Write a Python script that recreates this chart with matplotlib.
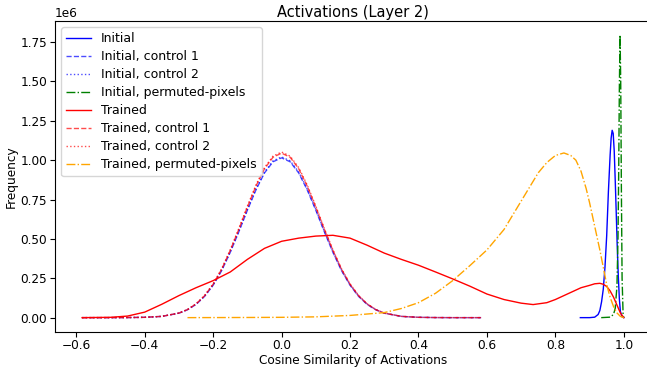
import matplotlib
matplotlib.use("Agg")
import matplotlib.pyplot as plt

# ---- data (values in units of 1e6) ----
ctrl_x = [-0.583, -0.5, -0.45, -0.4, -0.35, -0.3, -0.275, -0.25, -0.225, -0.2, -0.175, -0.15,
          -0.125, -0.1, -0.075, -0.05, -0.025, 0.0, 0.025, 0.05, 0.075, 0.1, 0.125, 0.15,
          0.175, 0.2, 0.225, 0.25, 0.275, 0.3, 0.35, 0.4, 0.45, 0.5, 0.583]
init_ctrl1 = [0.0, 0.0, 0.0005, 0.002, 0.008, 0.028, 0.050, 0.084, 0.135, 0.206, 0.299, 0.415,
              0.545, 0.682, 0.811, 0.919, 0.990, 1.015, 0.990, 0.919, 0.811, 0.682, 0.545, 0.415,
              0.299, 0.206, 0.135, 0.084, 0.050, 0.028, 0.008, 0.002, 0.0005, 0.0, 0.0]
init_ctrl2 = [0.0, 0.0, 0.0005, 0.002, 0.008, 0.029, 0.051, 0.085, 0.137, 0.208, 0.302, 0.418,
              0.549, 0.687, 0.817, 0.925, 0.996, 1.021, 0.996, 0.925, 0.817, 0.687, 0.549, 0.418,
              0.302, 0.208, 0.137, 0.085, 0.051, 0.029, 0.008, 0.002, 0.0005, 0.0, 0.0]
trained_ctrl1 = [0.0, 0.0, 0.0005, 0.002, 0.008, 0.029, 0.051, 0.087, 0.139, 0.212, 0.308, 0.427,
                 0.561, 0.702, 0.835, 0.946, 1.019, 1.045, 1.019, 0.946, 0.835, 0.702, 0.561, 0.427,
                 0.308, 0.212, 0.139, 0.087, 0.051, 0.029, 0.008, 0.002, 0.0005, 0.0, 0.0]
trained_ctrl2 = [0.0, 0.0, 0.0005, 0.002, 0.008, 0.029, 0.052, 0.088, 0.141, 0.215, 0.311, 0.431,
                 0.566, 0.708, 0.842, 0.953, 1.026, 1.052, 1.026, 0.953, 0.842, 0.708, 0.566, 0.431,
                 0.311, 0.215, 0.141, 0.088, 0.052, 0.029, 0.008, 0.002, 0.0005, 0.0, 0.0]

initial_x = [0.873, 0.9, 0.915, 0.925, 0.93, 0.935, 0.94, 0.945, 0.95, 0.955, 0.96, 0.963,
             0.966, 0.969, 0.972, 0.975, 0.978, 0.981, 0.984, 0.987, 0.99, 0.995, 1.0]
initial_y = [0.0, 0.0, 0.003, 0.02, 0.045, 0.1, 0.18, 0.32, 0.52, 0.80, 1.03, 1.14,
             1.19, 1.17, 1.06, 0.87, 0.66, 0.44, 0.26, 0.12, 0.04, 0.005, 0.0]

init_perm_x = [0.934, 0.96, 0.97, 0.975, 0.98, 0.983, 0.985, 0.987, 0.989, 0.991, 0.993,
               0.995, 0.998, 1.0]
init_perm_y = [0.0, 0.003, 0.02, 0.06, 0.2, 0.5, 0.9, 1.45, 1.795, 1.5, 0.8, 0.25, 0.02, 0.0]

trained_x = [-0.583, -0.5, -0.45, -0.4, -0.35, -0.3, -0.25, -0.2, -0.15, -0.1, -0.05, 0.0,
             0.05, 0.1, 0.15, 0.2, 0.25, 0.3, 0.35, 0.4, 0.45, 0.5, 0.55, 0.6, 0.65, 0.7,
             0.735, 0.775, 0.8, 0.825, 0.85, 0.875, 0.9, 0.915, 0.93, 0.94, 0.95, 0.96,
             0.97, 0.98, 0.99, 1.0]
trained_y = [0.0, 0.002, 0.01, 0.035, 0.085, 0.14, 0.19, 0.235, 0.29, 0.37, 0.44, 0.485,
             0.505, 0.518, 0.523, 0.505, 0.46, 0.41, 0.37, 0.333, 0.29, 0.246, 0.2, 0.15,
             0.115, 0.092, 0.083, 0.095, 0.115, 0.14, 0.165, 0.19, 0.205, 0.215, 0.218,
             0.212, 0.198, 0.17, 0.13, 0.08, 0.03, 0.0]

trained_perm_x = [-0.275, -0.1, 0.0, 0.1, 0.2, 0.3, 0.35, 0.4, 0.45, 0.5, 0.55, 0.6, 0.65,
                  0.675, 0.7, 0.725, 0.75, 0.775, 0.8, 0.825, 0.845, 0.86, 0.875, 0.89, 0.9,
                  0.91, 0.92, 0.93, 0.94, 0.95, 0.96, 0.97, 0.98, 0.99, 1.0]
trained_perm_y = [0.0, 0.001, 0.002, 0.005, 0.014, 0.032, 0.058, 0.095, 0.155, 0.235, 0.33,
                  0.43, 0.56, 0.65, 0.74, 0.83, 0.92, 0.985, 1.03, 1.046, 1.03, 1.0, 0.93,
                  0.82, 0.73, 0.63, 0.53, 0.43, 0.32, 0.21, 0.13, 0.07, 0.03, 0.008, 0.0]

SCALE = 1e6

plt.rcParams["font.size"] = 8.75
plt.rcParams["xtick.major.pad"] = 2.0
plt.rcParams["ytick.major.pad"] = 2.0

fig = plt.figure(figsize=(6.47, 3.67), dpi=100)
ax = fig.add_axes([0.085, 0.096, 0.921, 0.847])

def s(v):
    return [a * SCALE for a in v]

ax.plot(initial_x, s(initial_y), color="blue", ls="-", lw=1, label="Initial")
ax.plot(ctrl_x, s(init_ctrl1), color="blue", ls="--", lw=1, alpha=0.7, label="Initial, control 1")
ax.plot(ctrl_x, s(init_ctrl2), color="blue", ls=":", lw=1, alpha=0.7, label="Initial, control 2")
ax.plot(init_perm_x, s(init_perm_y), color="green", ls="-.", lw=1, label="Initial, permuted-pixels")
ax.plot(trained_x, s(trained_y), color="red", ls="-", lw=1, label="Trained")
ax.plot(ctrl_x, s(trained_ctrl1), color="red", ls="--", lw=1, alpha=0.7, label="Trained, control 1")
ax.plot(ctrl_x, s(trained_ctrl2), color="red", ls=":", lw=1, alpha=0.7, label="Trained, control 2")
ax.plot(trained_perm_x, s(trained_perm_y), color="orange", ls="-.", lw=1, label="Trained, permuted-pixels")

ax.set_title("Activations (Layer 2)", fontsize=10.5, pad=2.5)
ax.set_xlabel("Cosine Similarity of Activations", labelpad=1)
ax.set_ylabel("Frequency", labelpad=2)
ax.set_xticks([-0.6, -0.4, -0.2, 0.0, 0.2, 0.4, 0.6, 0.8, 1.0])
ax.set_yticks([0, 0.25e6, 0.5e6, 0.75e6, 1.0e6, 1.25e6, 1.5e6, 1.75e6])
ax.legend(loc="upper left", fontsize=9, labelspacing=0.4)

fig.savefig("out.png", dpi=100)
